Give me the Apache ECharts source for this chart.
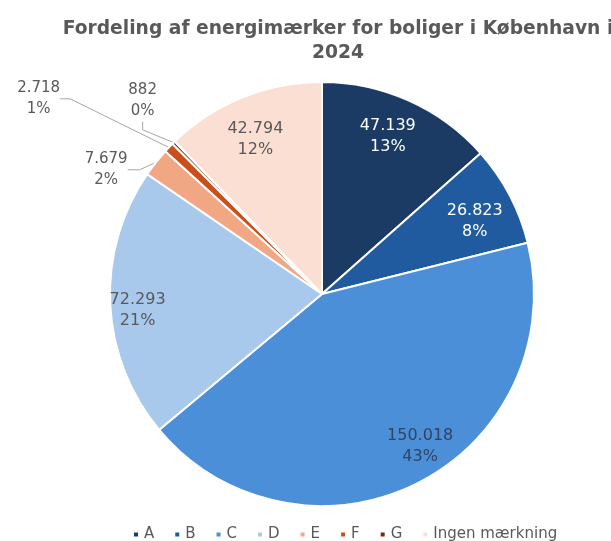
<!DOCTYPE html>
<html>
<head>
<meta charset="utf-8">
<script src="https://cdn.jsdelivr.net/npm/echarts@6/dist/echarts.min.js"></script>
<style>html,body{margin:0;padding:0;background:#fff;}#c{width:611px;height:541px;}</style>
</head>
<body>
<div id="c"></div>
<script>
const categories = ['A', 'B', 'C', 'D', 'E', 'F', 'G', 'Ingen mærkning'];
const values = [47139, 26823, 150018, 72293, 7679, 2718, 882, 42794];
const colors = ['#1b3a64', '#1f5b9e', '#4a8fd8', '#a8c8ec', '#f1a784', '#c9501c', '#7a2a0e', '#fadfd2'];
const labelColors = ['#ffffff', '#ffffff', '#34445e', '#595959', '#595959', '#595959', '#595959', '#595959'];
const outside = [false, false, false, false, true, true, true, false];
// label nudges (px) for the small outside slices: [dx, dy]
const nudges = {4: [18, 0], 5: [-25, 17], 6: [56, -25]};
// label nudges for inside labels: [dx, dy]
const innerNudges = {0: [-5, 0], 1: [0, 8], 2: [20, -2], 3: [-12, 8], 7: [-2, 5]};

function fmt(v) { return String(v).replace(/\B(?=(\d{3})+(?!\d))/g, '.'); }

const chart = echarts.init(document.getElementById('c'), null, {renderer: 'canvas'});
const FONT = 'DejaVu Sans';
const center = [322, 294];
const R = 212;

const mainData = categories.map((n, i) => ({
  name: n, value: values[i],
  itemStyle: {color: colors[i]},
  label: outside[i] ? {show: true, color: labelColors[i]} : {show: false},
  labelLine: outside[i] ? {show: true} : {show: false}
}));
mainData[4].labelLine.length = 6; mainData[4].labelLine.length2 = 12;
mainData[5].labelLine.length = 95; mainData[5].labelLine.length2 = 10;
mainData[6].labelLine.length = 40; mainData[6].labelLine.length2 = 8;

const innerData = categories.map((n, i) => ({
  name: n, value: values[i],
  itemStyle: {color: 'rgba(0,0,0,0)', borderWidth: 0},
  label: {show: !outside[i], color: labelColors[i]}
}));

chart.setOption({
  backgroundColor: '#ffffff',
  title: {
    text: 'Fordeling af energimærker for boliger i København i\n2024',
    left: 333, top: 12, textAlign: 'center',
    textStyle: {fontFamily: 'DejaVu Sans', fontWeight: 'bold', fontSize: 18.7, color: '#595959', lineHeight: 24}
  },
  legend: {
    data: categories, top: 522, left: 127,
    icon: 'rect', itemWidth: 6, itemHeight: 6, itemGap: 19,
    textStyle: {fontFamily: FONT, fontSize: 15, color: '#595959'}
  },
  series: [
    {
      type: 'pie', center: center, radius: [0, R], startAngle: 90, clockwise: true,
      animation: false, silent: true, percentPrecision: 0,
      itemStyle: {borderColor: '#ffffff', borderWidth: 2},
      label: {
        position: 'outside', fontFamily: FONT, fontSize: 15, lineHeight: 21,
        formatter: p => fmt(p.value) + '\n' + p.percent + '%'
      },
      labelLine: {lineStyle: {color: '#a6a6a6', width: 1}},
      labelLayout: function (p) {
        const n = nudges[p.dataIndex];
        if (!n) return {};
        return {
          x: p.labelRect.x + p.labelRect.width / 2 + n[0],
          y: p.labelRect.y + n[1],
          align: 'center', verticalAlign: 'top'
        };
      },
      data: mainData
    },
    {
      type: 'pie', center: center, radius: [R * 0.6, R], startAngle: 90, clockwise: true,
      animation: false, silent: true, percentPrecision: 0, legendHoverLink: false,
      label: {
        position: 'inside', fontFamily: FONT, fontSize: 16, lineHeight: 21,
        formatter: p => fmt(p.value) + '\n' + p.percent + '%'
      },
      labelLine: {show: false},
      labelLayout: function (p) {
        const n = innerNudges[p.dataIndex];
        if (!n) return {};
        return {dx: n[0], dy: n[1]};
      },
      data: innerData
    }
  ]
});
</script>
</body>
</html>
